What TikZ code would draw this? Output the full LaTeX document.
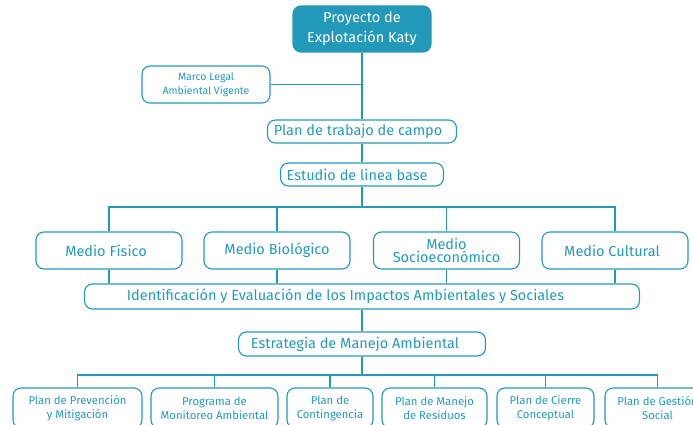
\documentclass[tikz,border=0pt]{standalone}
\usepackage{fontspec}
\setmainfont{Fira Sans}
\definecolor{katy}{HTML}{2399BA}
\begin{document}
\begin{tikzpicture}[x=1pt, y=-1pt,
  box/.style={draw=katy, text=katy, line width=1.1pt, rounded corners=8pt,
    align=center, inner sep=0pt, font=\fontsize{14.5}{13}\selectfont},
  small/.style={box, font=\fontsize{11.3}{14}\selectfont},
  conn/.style={draw=katy, line width=1.1pt}]
  \useasboundingbox (0,0) rectangle (693,425);
  \node[box, fill=katy, text=white, minimum width=138, minimum height=46,
    font=\fontsize{14.5}{20}\selectfont] (proyecto) at (362,29) {Proyecto de\\Explotación Katy\hspace{6pt}};
  \node[small, minimum width=128, minimum height=37, font=\fontsize{10.5}{14}\selectfont] (marco) at (206,84.5) {Marco Legal\\Ambiental Vigente};
  \node[box, minimum width=189, minimum height=23] (plan) at (362,131.5) {Plan de trabajo de campo\hspace{8pt}};
  \node[box, minimum width=163, minimum height=23] (estudio) at (362,174.5) {Estudio de linea base\hspace{10pt}};
  \node[box, minimum width=146, minimum height=37] (fisico) at (109,250.5) {Medio Físico\hspace{6pt}};
  \node[box, minimum width=146, minimum height=37] (biologico) at (277,250.5) {Medio Biológico};
  \node[box, minimum width=146, minimum height=37] (socio) at (446.5,250.5) {Medio\\Socioeconómico};
  \node[box, minimum width=146, minimum height=37] (cultural) at (615,250.5) {Medio Cultural\hspace{6pt}};
  \node[box, minimum width=555, minimum height=25] (impactos) at (362,296.5)
    {Identificación y Evaluación de los Impactos Ambientales y Sociales\hspace{33pt}};
  \node[box, minimum width=247, minimum height=24] (estrategia) at (362,344) {Estrategia de Manejo Ambiental\hspace{14pt}};
  \node[small, minimum width=129, minimum height=40] (prevencion) at (77.5,408) {Plan de Prevención\\y Mitigación};
  \node[small, minimum width=127, minimum height=40] (monitoreo) at (214.5,408) {Programa de\\Monitoreo Ambiental};
  \node[small, minimum width=86, minimum height=40] (contingencia) at (330,408) {Plan de\\Contingencia};
  \node[small, minimum width=105, minimum height=40] (residuos) at (434.5,408) {Plan de Manejo\\de Residuos};
  \node[small, minimum width=97, minimum height=40] (cierre) at (545.5,408) {Plan de Cierre\\Conceptual};
  \node[small, minimum width=105, minimum height=40] (social) at (657.5,408) {Plan de Gestión\\Social};
  \coordinate (bus) at (362,207);
  \coordinate (bus2) at (362,375);
  \draw[conn] (proyecto) -- (plan);
  \draw[conn] (marco) -- (marco -| proyecto);
  \draw[conn] (plan) -- (estudio);
  \draw[conn] (estudio) -- (bus);
  \foreach \m in {fisico,biologico,socio,cultural}{
    \draw[conn] (\m.north) |- (bus);
    \draw[conn] (\m.south) -- (\m.south |- impactos.north);
  }
  \draw[conn] (impactos) -- (estrategia);
  \draw[conn] (estrategia) -- (bus2);
  \foreach \p in {prevencion,monitoreo,contingencia,residuos,cierre,social}
    \draw[conn] (\p.north) |- (bus2);
\end{tikzpicture}
\end{document}
